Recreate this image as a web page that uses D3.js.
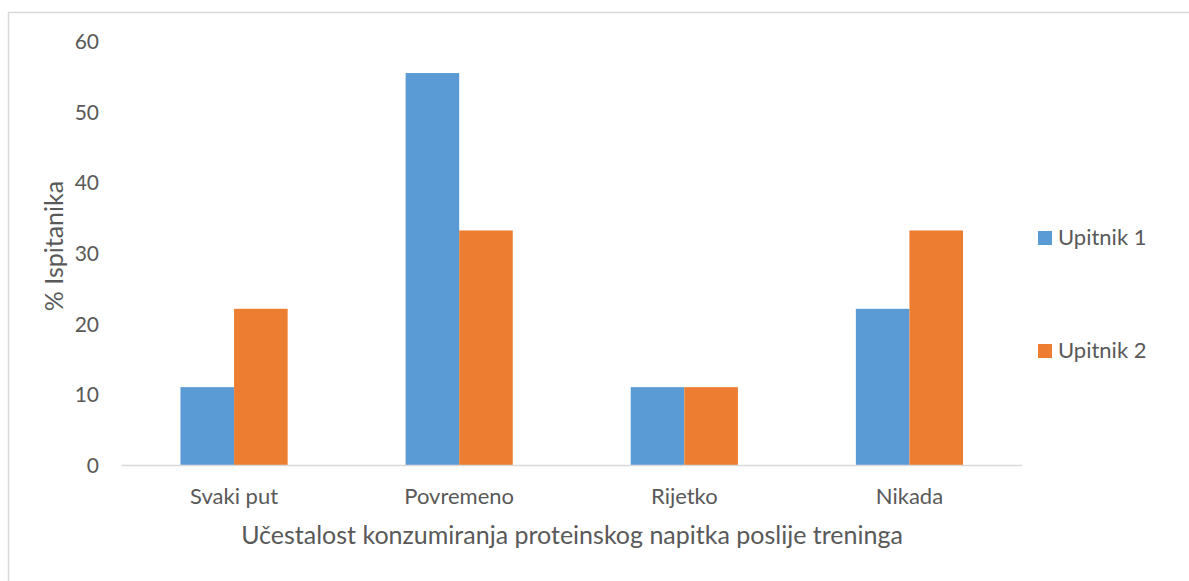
<!DOCTYPE html>
<html>
<head>
<meta charset="utf-8">
<script src="https://cdn.jsdelivr.net/npm/d3@7"></script>
<style>
  html, body { margin: 0; padding: 0; background: #fff; }
  svg { display: block; }
  text { font-family: Lato, "Open Sans", sans-serif; fill: #595959; }
</style>
</head>
<body>
<svg id="chart" width="1189" height="581"></svg>
<script>
const categories = ["Svaki put", "Povremeno", "Rijetko", "Nikada"];
const seriesNames = ["Upitnik 1", "Upitnik 2"];
const upitnik1 = [11.1, 55.6, 11.1, 22.2];
const upitnik2 = [22.2, 33.3, 11.1, 33.3];
const yTicks = [0, 10, 20, 30, 40, 50, 60];
const colors = ["#5B9BD5", "#ED7D31"];
const xTitle = "Učestalost konzumiranja proteinskog napitka poslije treninga";
const yTitle = "% Ispitanika";

const svg = d3.select("#chart");

// outer border
svg.append("rect")
  .attr("x", 8.5).attr("y", 12.5)
  .attr("width", 1200).attr("height", 600)
  .attr("fill", "none").attr("stroke", "#D9D9D9").attr("stroke-width", 1.5);

const x0 = d3.scaleBand().domain(categories).range([121.5, 1022]).paddingInner(0.524).paddingOuter(0.262);
const x1 = d3.scaleBand().domain(seriesNames).range([0, x0.bandwidth()]);
const y = d3.scaleLinear().domain([0, 60]).range([465.5, 42]);

const data = categories.map((c, i) => ({ cat: c, values: [upitnik1[i], upitnik2[i]] }));

// bars
const groups = svg.append("g").selectAll("g").data(data).join("g")
  .attr("transform", d => `translate(${x0(d.cat)},0)`);
groups.selectAll("rect").data(d => d.values.map((v, j) => ({ v, s: seriesNames[j], j })))
  .join("rect")
  .attr("x", d => x1(d.s))
  .attr("width", x1.bandwidth())
  .attr("y", d => y(d.v))
  .attr("height", d => y(0) - y(d.v))
  .attr("fill", d => colors[d.j]);

// x axis line
svg.append("line")
  .attr("x1", 121.5).attr("x2", 1022)
  .attr("y1", y(0)).attr("y2", y(0))
  .attr("stroke", "#D9D9D9").attr("stroke-width", 1.5);

// y tick labels
const yAxis = d3.axisLeft(y).tickValues(yTicks).tickSize(0).tickPadding(0);
const yg = svg.append("g").attr("transform", "translate(99,0)").call(yAxis);
yg.select(".domain").remove();
yg.selectAll("text").style("font-size", "21px").attr("fill", "#595959")
  .attr("font-family", "Lato, 'Open Sans', sans-serif");

// x category labels
const xAxis = d3.axisBottom(x0).tickSize(0).tickPadding(0);
const xg = svg.append("g").attr("transform", `translate(0,${y(0) + 23})`).call(xAxis);
xg.select(".domain").remove();
xg.selectAll("text").style("font-size", "22px").attr("fill", "#595959")
  .attr("font-family", "Lato, 'Open Sans', sans-serif");

// axis titles
svg.append("text")
  .attr("x", 572).attr("y", 544)
  .attr("text-anchor", "middle")
  .style("font-size", "25px")
  .text(xTitle);

svg.append("text")
  .attr("transform", "translate(63,246) rotate(-90)")
  .attr("text-anchor", "middle")
  .style("font-size", "25px")
  .text(yTitle);

// legend
const legendY = [237.5, 350.5];
const lg = svg.append("g").selectAll("g").data(seriesNames).join("g")
  .attr("transform", (d, i) => `translate(1038,${legendY[i]})`);
lg.append("rect").attr("x", 0).attr("y", -6.5).attr("width", 14).attr("height", 14)
  .attr("fill", (d, i) => colors[i]);
lg.append("text").attr("x", 20).attr("y", 0).attr("dy", "0.35em")
  .style("font-size", "22px").text(d => d);
</script>
</body>
</html>
